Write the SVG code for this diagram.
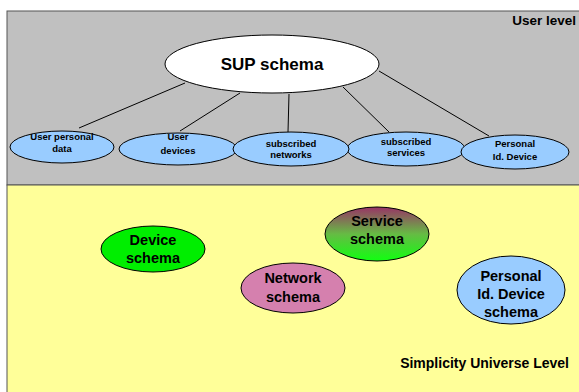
<svg xmlns="http://www.w3.org/2000/svg" width="579" height="392" viewBox="0 0 579 392">
<style>
text{font-family:"Liberation Sans",Arial,sans-serif;font-weight:bold;fill:#000;text-anchor:middle}
.s{font-size:9.5px}
.m{font-size:14.5px}
.n{stroke:#000;stroke-width:1}
.c{stroke:#000;stroke-width:1;fill:none}
</style>
<defs>
<linearGradient id="svc" x1="0" y1="0" x2="0" y2="1">
<stop offset="0" stop-color="#993366"/>
<stop offset="0.5" stop-color="#66bb44"/>
<stop offset="1" stop-color="#11ff11"/>
</linearGradient>
</defs>
<rect width="579" height="392" fill="#fff"/>
<g id="user-level">
<rect x="7" y="11" width="580" height="174" fill="#c0c0c0" stroke="#555" stroke-width="1"/>
<text x="576" y="25" style="font-size:13.5px;text-anchor:end">User level</text>
</g>
<g id="universe-level">
<rect x="7" y="185" width="580" height="215" fill="#ffff99" stroke="#555" stroke-width="1"/>
<text x="569" y="368" style="font-size:14px;text-anchor:end">Simplicity Universe Level</text>
</g>
<g id="connectors">
<line class="c" x1="185" y1="83" x2="79" y2="128"/>
<line class="c" x1="240" y1="93" x2="180" y2="131"/>
<line class="c" x1="289" y1="94" x2="288" y2="132"/>
<line class="c" x1="343" y1="87" x2="389" y2="132"/>
<line class="c" x1="379" y1="71" x2="489" y2="136"/>
</g>
<g id="sup-schema">
<ellipse class="n" cx="272" cy="64" rx="107" ry="29" fill="#fff"/>
<text x="272" y="70" style="font-size:17px">SUP schema</text>
</g>
<g id="user-personal-data">
<ellipse class="n" cx="62" cy="147" rx="52" ry="16" fill="#99ccff"/>
<text class="s" x="62" y="140">User personal</text>
<text class="s" x="62" y="152">data</text>
</g>
<g id="user-devices">
<ellipse class="n" cx="178" cy="149" rx="59" ry="16" fill="#99ccff"/>
<text class="s" x="178" y="140">User</text>
<text class="s" x="178" y="154">devices</text>
</g>
<g id="subscribed-services">
<ellipse class="n" cx="406" cy="149" rx="59" ry="17" fill="#99ccff"/>
<text class="s" x="406" y="145">subscribed</text>
<text class="s" x="406" y="156">services</text>
</g>
<g id="subscribed-networks">
<ellipse class="n" cx="291" cy="149" rx="58" ry="17" fill="#99ccff"/>
<text class="s" x="291" y="147">subscribed</text>
<text class="s" x="291" y="158">networks</text>
</g>
<g id="personal-id-device">
<ellipse class="n" cx="515" cy="152" rx="54" ry="17" fill="#99ccff"/>
<text class="s" x="515" y="147">Personal</text>
<text class="s" x="515" y="160">Id. Device</text>
</g>
<g id="device-schema">
<ellipse class="n" cx="153" cy="249" rx="52" ry="23" fill="#00ee00"/>
<text class="m" x="153" y="245">Device</text>
<text class="m" x="153" y="263">schema</text>
</g>
<g id="service-schema">
<ellipse class="n" cx="377" cy="234" rx="52" ry="27" fill="url(#svc)"/>
<text class="m" x="377" y="226">Service</text>
<text class="m" x="377" y="244">schema</text>
</g>
<g id="network-schema">
<ellipse class="n" cx="293" cy="288" rx="52" ry="25" fill="#d580ae"/>
<text class="m" x="293" y="283">Network</text>
<text class="m" x="293" y="302">schema</text>
</g>
<g id="personal-id-device-schema">
<ellipse class="n" cx="511" cy="290" rx="54" ry="34" fill="#99ccff"/>
<text class="m" x="511" y="281">Personal</text>
<text class="m" x="511" y="299">Id. Device</text>
<text class="m" x="511" y="317">schema</text>
</g>
</svg>
